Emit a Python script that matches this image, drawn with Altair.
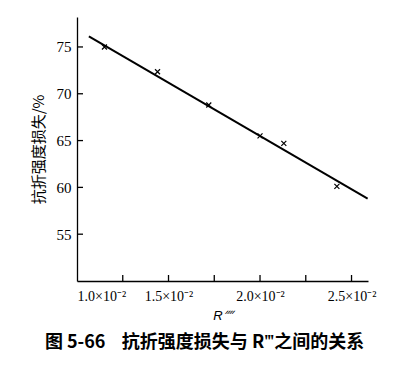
import altair as alt
import pandas as pd

# measured points (R'''' , flexural strength loss %)
r_values = [0.0115, 0.0144, 0.0172, 0.0200, 0.0213, 0.0242]
loss_values = [75.0, 72.35, 68.8, 65.5, 64.7, 60.1]

# fitted straight line end points
fit_r = [0.01065, 0.02588]
fit_loss = [76.13, 58.79]

x_ticks = [0.01, 0.0125, 0.015, 0.0175, 0.02, 0.0225, 0.025]
x_label_values = [0.01, 0.015, 0.02, 0.025]
x_label_texts = ["1.0×10⁻²", "1.5×10⁻²", "2.0×10⁻²", "2.5×10⁻²"]
y_ticks = [55, 60, 65, 70, 75]

W, H = 291, 264
TICK = 6

points = pd.DataFrame({"r": r_values, "loss": loss_values})
fit = pd.DataFrame({"r": fit_r, "loss": fit_loss})
xt = pd.DataFrame({"r": x_ticks[1:]})
yt = pd.DataFrame({"loss": y_ticks})

label_expr = "''"
for v, t in reversed(list(zip(x_label_values, x_label_texts))):
    label_expr = f"abs(datum.value - {v}) < 1e-6 ? '{t}' : ({label_expr})"

xscale = alt.Scale(domain=[0.01, 0.0259], nice=False, zero=False)
yscale = alt.Scale(domain=[50, 78.2], nice=False, zero=False)

serif = "Liberation Serif"

x_axis = alt.Axis(orient="bottom", values=x_ticks, labelExpr=label_expr,
                  ticks=False, grid=False, domainColor="black", domainWidth=1.3,
                  labelFont=serif, labelFontSize=14, labelColor="black",
                  labelPadding=8, labelOverlap=False, labelFlush=True,
                  title="R⁗", titleFont="Liberation Sans", titleFontStyle="italic",
                  titleFontWeight="normal", titleFontSize=13, titleColor="black",
                  titlePadding=6)
y_axis = alt.Axis(orient="left", values=y_ticks, ticks=False, grid=False,
                  domainColor="black", domainWidth=1.3,
                  labelFont=serif, labelFontSize=15, labelColor="black",
                  labelPadding=6, labelOverlap=False,
                  title="抗折强度损失/%", titleFont="Noto Sans CJK SC",
                  titleFontWeight="normal", titleFontSize=15, titleColor="black",
                  titlePadding=10)

line = alt.Chart(fit).mark_line(color="black", strokeWidth=2).encode(
    x=alt.X("r:Q", scale=xscale, axis=x_axis),
    y=alt.Y("loss:Q", scale=yscale, axis=y_axis),
)

marks = alt.Chart(points).mark_point(
    shape="M-1,-1L1,1M-1,1L1,-1", size=25, color="black", strokeWidth=1.2,
    filled=False, opacity=1
).encode(
    x=alt.X("r:Q", scale=xscale, axis=x_axis),
    y=alt.Y("loss:Q", scale=yscale, axis=y_axis),
)

# inward-pointing tick marks
xticks_layer = alt.Chart(xt).mark_rule(color="black", strokeWidth=1.3).encode(
    x=alt.X("r:Q", scale=xscale, axis=x_axis),
    y=alt.value(H), y2=alt.value(H - TICK),
)
yticks_layer = alt.Chart(yt).mark_rule(color="black", strokeWidth=1.3).encode(
    y=alt.Y("loss:Q", scale=yscale, axis=y_axis),
    x=alt.value(0), x2=alt.value(TICK),
)

caption = "图\u00a05-66\u00a0\u00a0\u00a0\u00a0抗折强度损失与\u00a0R‴之间的关系"

chart = alt.layer(line, marks, xticks_layer, yticks_layer).properties(
    width=W,
    height=H,
    autosize=alt.AutoSizeParams(type="none"),
    padding={"left": 77, "top": 17, "right": 48, "bottom": 85},
    background="white",
    title=alt.TitleParams(
        caption,
        orient="bottom", anchor="middle", dx=-18, offset=12,
        font="Noto Sans CJK SC", fontSize=18, fontWeight="bold", color="black",
    ),
).configure_view(stroke=None)

chart.save("out.html", embed_options={"renderer": "svg", "actions": False})
